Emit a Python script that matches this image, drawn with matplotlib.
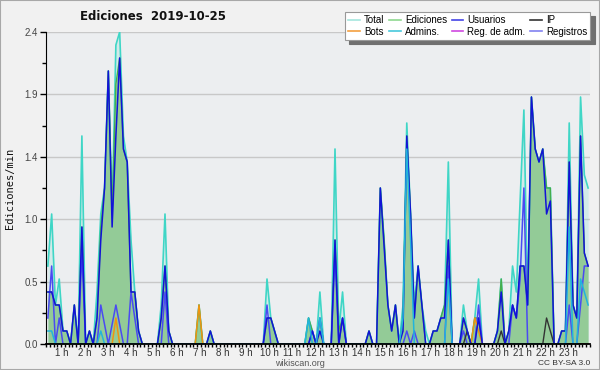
import matplotlib
matplotlib.use("Agg")
import matplotlib.pyplot as plt
from matplotlib.lines import Line2D
from matplotlib.patches import Rectangle
import numpy as np

# 10-minute bins, 6 per hour, values in edits per minute
total = [
    0.6, 1.0, 0.3, 0.5, 0.1, 0.1,   # 0h
    0.0, 0.3, 0.0, 1.6, 0.0, 0.1,   # 1h
    0.0, 0.4, 1.0, 1.2, 2.1, 1.0,   # 2h
    2.3, 2.4, 1.6, 1.4, 0.8, 0.4,   # 3h
    0.1, 0.0, 0.0, 0.0, 0.0, 0.0,   # 4h
    0.3, 1.0, 0.1, 0.0, 0.0, 0.0,   # 5h
    0.0, 0.0, 0.0, 0.0, 0.3, 0.0,   # 6h
    0.0, 0.1, 0.0, 0.0, 0.0, 0.0,   # 7h
    0.0, 0.0, 0.0, 0.0, 0.0, 0.0,   # 8h
    0.0, 0.0, 0.0, 0.0, 0.5, 0.2,   # 9h
    0.1, 0.0, 0.0, 0.0, 0.0, 0.0,   # 10h
    0.0, 0.0, 0.0, 0.2, 0.1, 0.0,   # 11h
    0.4, 0.0, 0.0, 0.0, 1.5, 0.1,   # 12h
    0.4, 0.0, 0.0, 0.0, 0.0, 0.0,   # 13h
    0.0, 0.1, 0.0, 0.0, 1.2, 0.8,   # 14h
    0.3, 0.1, 0.3, 0.0, 0.3, 1.7,   # 15h
    1.0, 0.3, 0.6, 0.3, 0.1, 0.0,   # 16h
    0.1, 0.1, 0.2, 0.3, 1.4, 0.0,   # 17h
    0.0, 0.0, 0.3, 0.1, 0.0, 0.2,   # 18h
    0.5, 0.0, 0.0, 0.0, 0.0, 0.1,   # 19h
    0.5, 0.0, 0.1, 0.6, 0.4, 1.1,   # 20h
    1.8, 0.3, 1.9, 1.5, 1.4, 1.5,   # 21h
    1.2, 1.2, 0.0, 0.0, 0.1, 0.1,   # 22h
    1.7, 0.3, 0.2, 1.9, 1.3, 1.2,   # 23h
]
edits = [
    0.4, 0.4, 0.3, 0.3, 0.1, 0.1,
    0.0, 0.3, 0.0, 0.9, 0.0, 0.1,
    0.0, 0.2, 0.9, 1.2, 2.1, 1.0,
    2.0, 2.2, 1.5, 1.4, 0.4, 0.4,
    0.1, 0.0, 0.0, 0.0, 0.0, 0.0,
    0.2, 0.6, 0.1, 0.0, 0.0, 0.0,
    0.0, 0.0, 0.0, 0.0, 0.3, 0.0,
    0.0, 0.1, 0.0, 0.0, 0.0, 0.0,
    0.0, 0.0, 0.0, 0.0, 0.0, 0.0,
    0.0, 0.0, 0.0, 0.0, 0.2, 0.2,
    0.1, 0.0, 0.0, 0.0, 0.0, 0.0,
    0.0, 0.0, 0.0, 0.2, 0.1, 0.0,
    0.2, 0.0, 0.0, 0.0, 0.8, 0.1,
    0.2, 0.0, 0.0, 0.0, 0.0, 0.0,
    0.0, 0.1, 0.0, 0.0, 1.2, 0.8,
    0.3, 0.1, 0.3, 0.0, 0.2, 1.6,
    1.0, 0.2, 0.6, 0.3, 0.0, 0.0,
    0.1, 0.1, 0.2, 0.3, 0.8, 0.0,
    0.0, 0.0, 0.2, 0.1, 0.0, 0.2,
    0.2, 0.0, 0.0, 0.0, 0.0, 0.1,
    0.5, 0.0, 0.1, 0.3, 0.2, 0.6,
    0.6, 0.3, 1.9, 1.5, 1.4, 1.5,
    1.2, 1.2, 0.0, 0.0, 0.1, 0.1,
    1.4, 0.3, 0.2, 1.6, 0.7, 0.6,
]
users = [
    0.4, 0.4, 0.3, 0.3, 0.1, 0.1,
    0.0, 0.3, 0.0, 0.9, 0.0, 0.1,
    0.0, 0.2, 0.8, 1.2, 2.1, 0.9,
    1.6, 2.2, 1.5, 1.4, 0.4, 0.4,
    0.1, 0.0, 0.0, 0.0, 0.0, 0.0,
    0.2, 0.6, 0.1, 0.0, 0.0, 0.0,
    0.0, 0.0, 0.0, 0.0, 0.0, 0.0,
    0.0, 0.1, 0.0, 0.0, 0.0, 0.0,
    0.0, 0.0, 0.0, 0.0, 0.0, 0.0,
    0.0, 0.0, 0.0, 0.0, 0.2, 0.2,
    0.1, 0.0, 0.0, 0.0, 0.0, 0.0,
    0.0, 0.0, 0.0, 0.0, 0.1, 0.0,
    0.1, 0.0, 0.0, 0.0, 0.8, 0.0,
    0.2, 0.0, 0.0, 0.0, 0.0, 0.0,
    0.0, 0.1, 0.0, 0.0, 1.2, 0.75,
    0.3, 0.1, 0.3, 0.0, 0.1, 1.6,
    1.0, 0.2, 0.6, 0.3, 0.0, 0.0,
    0.1, 0.1, 0.2, 0.2, 0.8, 0.0,
    0.0, 0.0, 0.2, 0.1, 0.0, 0.0,
    0.2, 0.0, 0.0, 0.0, 0.0, 0.1,
    0.4, 0.0, 0.1, 0.3, 0.2, 0.6,
    0.6, 0.3, 1.9, 1.5, 1.4, 1.5,
    1.0, 1.1, 0.0, 0.0, 0.1, 0.1,
    1.4, 0.3, 0.2, 1.6, 0.7, 0.6,
]
ip = [0.0] * 144
ip_bins = [111, 120, 132, 133]
ip_vals = [0.1, 0.1, 0.2, 0.1]
bots_bins = [18, 40, 113, 114]
bots_vals = [0.2, 0.3, 0.2, 0.1]
admins_bins = [0, 1, 14, 69, 72, 94, 95, 96, 106, 138, 141, 142, 143]
admins_vals = [0.1, 0.1, 0.1, 0.2, 0.2, 0.2, 1.5, 0.8, 0.5, 0.9, 0.5, 0.4, 0.3]
logs = [
    0.2, 0.6, 0.0, 0.2, 0.0, 0.0,
    0.0, 0.0, 0.0, 0.7, 0.0, 0.0,
    0.0, 0.0, 0.3, 0.15, 0.0, 0.15,
    0.3, 0.15, 0.0, 0.0, 0.4, 0.2,
    0.0, 0.0, 0.0, 0.0, 0.0, 0.0,
    0.0, 0.4, 0.0, 0.0, 0.0, 0.0,
    0.0, 0.0, 0.0, 0.0, 0.0, 0.0,
    0.0, 0.0, 0.0, 0.0, 0.0, 0.0,
    0.0, 0.0, 0.0, 0.0, 0.0, 0.0,
    0.0, 0.0, 0.0, 0.0, 0.3, 0.0,
    0.0, 0.0, 0.0, 0.0, 0.0, 0.0,
    0.0, 0.0, 0.0, 0.0, 0.1, 0.0,
    0.2, 0.0, 0.0, 0.0, 0.7, 0.0,
    0.2, 0.0, 0.0, 0.0, 0.0, 0.0,
    0.0, 0.0, 0.0, 0.0, 0.0, 0.0,
    0.0, 0.0, 0.0, 0.0, 0.0, 0.1,
    0.0, 0.1, 0.0, 0.0, 0.0, 0.0,
    0.0, 0.0, 0.0, 0.0, 0.6, 0.0,
    0.0, 0.0, 0.1, 0.0, 0.0, 0.0,
    0.3, 0.0, 0.0, 0.0, 0.0, 0.0,
    0.0, 0.0, 0.0, 0.3, 0.2, 0.5,
    1.2, 0.0, 0.0, 0.0, 0.0, 0.0,
    0.0, 0.0, 0.0, 0.0, 0.0, 0.0,
    0.3, 0.0, 0.0, 0.3, 0.6, 0.6,
]

legend_labels = ["Total", "Ediciones", "Usuarios", "IP",
                 "Bots", "Admins.", "Reg. de adm.", "Registros"]
hour_labels = [f"{h} h" for h in range(1, 24)]
y_ticks = [0.0, 0.48, 0.96, 1.44, 1.92, 2.4]

bots = [0.0] * 144
for b, v in zip(bots_bins, bots_vals):
    bots[b] = v
admins = [0.0] * 144
for b, v in zip(admins_bins, admins_vals):
    admins[b] = v
for b, v in zip(ip_bins, ip_vals):
    ip[b] = v
regadm = [0.0] * 144

x = np.arange(144) + 0.5

fig = plt.figure(figsize=(6, 3.7), dpi=100, facecolor="#f1f1f1")
ax = fig.add_axes([46 / 600, 1 - 344 / 370, 544 / 600, 312 / 370])
ax.set_facecolor("#eceef0")

c_total, c_edits, c_users, c_ip = "#3fd6c6", "#46ad4c", "#1212d8", "#333333"
c_bots, c_admins, c_regadm, c_logs = "#f09410", "#22b4dc", "#d040d0", "#4a4af2"

ax.fill_between(x, total, color=c_total, alpha=0.15, lw=0)
ax.plot(x, total, color=c_total, lw=1.2)
ax.fill_between(x, edits, color="#93cb97", lw=0)
ax.plot(x, edits, color=c_edits, lw=1.0)
ax.plot(x, logs, color=c_logs, lw=1.1)
ax.plot(x, regadm, color=c_regadm, lw=1.0)
ax.plot(x, bots, color=c_bots, lw=1.1)
ax.plot(x, ip, color=c_ip, lw=1.0)
ax.plot(x, users, color=c_users, lw=1.1)
ax.plot(x, admins, color=c_admins, lw=1.1)

ax.set_xlim(0, 144)
ax.set_ylim(0, 2.4)

for s in ["top", "right"]:
    ax.spines[s].set_visible(False)
ax.spines["left"].set_color("black")
ax.spines["bottom"].set_color("black")
ax.spines["bottom"].set_linewidth(1.3)

ax.set_yticks(y_ticks)
ax.set_yticklabels([f"{v:.1f}" for v in y_ticks], fontsize=7,
                   family="Liberation Sans", color="#444444")
ax.set_yticks([0.24, 0.72, 1.2, 1.68, 2.16], minor=True)
ax.yaxis.grid(True, which="major", color="#c8c8c8", lw=1)
ax.set_axisbelow(True)
ax.tick_params(axis="y", which="major", length=4, width=1, pad=2)
ax.tick_params(axis="y", which="minor", length=3, width=1)

ax.set_xticks([6.095 * h - 1.85 for h in range(1, 24)])
ax.set_xticklabels(hour_labels, fontsize=7, family="Liberation Sans", color="#333333")
ax.set_xticks(np.arange(0, 145), minor=True)
ax.tick_params(axis="x", which="major", length=0, pad=3.2)
ax.tick_params(axis="x", which="minor", length=2.5, width=1)

fig.text(153 / 600, 1 - 17 / 370, "Ediciones  2019-10-25", ha="center", va="center",
         fontsize=8.5, fontweight="bold", family="DejaVu Sans", color="#111111")
fig.text(10 / 600, 1 - 188 / 370, "Ediciones/min", rotation=90, ha="center", va="center",
         fontsize=7.5, family="DejaVu Sans Mono", color="#111111")
fig.text(300 / 600, 1 - 363.5 / 370, "wikiscan.org", ha="center", va="center",
         fontsize=6.5, family="Liberation Sans", color="#555555")
fig.text(590 / 600, 1 - 363.5 / 370, "CC BY-SA 3.0", ha="right", va="center",
         fontsize=6, family="Liberation Sans", color="#333333")

leg_colors = ["#a6e6de", "#8fd890", "#4444e6", "#333333",
              "#f4a040", "#48c8dc", "#d048e0", "#8282f0"]
handles = [Line2D([], [], color=c, lw=1.2) for c in leg_colors]
order = [0, 4, 1, 5, 2, 6, 3, 7]
leg = fig.legend([handles[i] for i in order], [legend_labels[i] for i in order],
                 loc="upper left", bbox_to_anchor=(345 / 600, 1 - 12 / 370),
                 borderaxespad=0, ncol=4, prop={"family": "Liberation Sans", "size": 7},
                 handlelength=1.2, handletextpad=0.4, columnspacing=0.5,
                 labelspacing=0.15, borderpad=0.35, fancybox=False,
                 shadow={"color": "#707070", "alpha": 1.0, "ox": 3, "oy": -3},
                 framealpha=1)
leg.get_frame().set_edgecolor("#999999")
leg.get_frame().set_linewidth(0.8)

fig.patches.append(Rectangle((0, 0), 1, 1, transform=fig.transFigure, fill=False,
                             edgecolor="#a8a8a8", lw=1.5))

fig.savefig("out.png", dpi=100, facecolor=fig.get_facecolor())
